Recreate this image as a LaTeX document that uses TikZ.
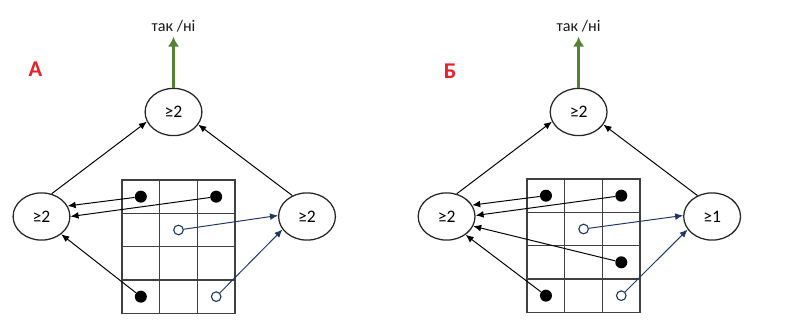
\documentclass[tikz,border=0pt]{standalone}
\usepackage{fontspec}
\setmainfont{Carlito}
\usepackage{tikz}
\usetikzlibrary{shapes.geometric,arrows.meta}
\definecolor{zelenyj}{RGB}{84,130,53}
\definecolor{synij}{RGB}{32,56,100}
\definecolor{chervonyj}{RGB}{232,32,40}
\tikzset{
  neuron/.style={ellipse, draw=black!85, line width=0.9pt,
                 minimum width=1.42cm, minimum height=1.18cm, inner sep=0pt,
                 font=\fontsize{12.5}{14}\selectfont},
  tochka/.style={circle, fill=black, minimum size=3mm, inner sep=0pt},
  kilce/.style={circle, draw=synij, fill=white, line width=0.8pt,
                minimum size=2.4mm, inner sep=0pt},
  strilka/.style={-{Latex[length=2mm,width=1.7mm]}, line width=0.7pt},
  synja/.style={strilka, draw=synij},
  vykhid/.style={-{Latex[length=2.4mm,width=2.8mm]}, draw=zelenyj, line width=2pt},
  sitka/.style={draw=black!75, line width=0.9pt},
  mitka/.style={font=\bfseries\fontsize{16}{18}\selectfont, text=chervonyj},
  vidpovid/.style={font=\fontsize{11.5}{13}\selectfont, text=black!90}
}

\begin{document}
\begin{tikzpicture}[x=0.025cm, y=-0.025cm]
  \useasboundingbox (0,0) rectangle (800,320);
  \def\kx{37.67}   % ширина клітинки
  \def\ky{33.33}   % висота клітинки

  % --- A ---
  \node[mitka] (aM) at (35.5,69.5) {А};
  \node[vidpovid] (aV) at (173.5,26) {так /ні};
  \node[neuron] (aT) at (173.5,112)  {≥2};
  \node[neuron] (aL) at (41.5,216.5) {≥2};
  \node[neuron] (aR) at (307,216.5)  {≥2};
  \foreach \c in {0,1,2} \foreach \r in {0,...,3}
    \draw[sitka] ({122+\kx*\c},{180+\ky*\r}) rectangle ++(\kx,\ky);
  \node[tochka] (a00) at ({122+\kx*0.5},{180+\ky*0.5}) {};
  \node[tochka] (a20) at ({122+\kx*2.5},{180+\ky*0.5}) {};
  \node[tochka] (a03) at ({122+\kx*0.5},{180+\ky*3.5}) {};
  \node[kilce]  (a11) at ({122+\kx*1.5},{180+\ky*1.5}) {};
  \node[kilce]  (a23) at ({122+\kx*2.5},{180+\ky*3.5}) {};
  \draw[strilka] (a00) -- (aL.22);
  \draw[strilka] (a20) -- (aL.0);
  \draw[strilka] (a03) -- (aL.-42);
  \draw[synja] (a11) -- (aR.178);
  \draw[synja] (a23) -- (aR.208);
  \draw[strilka] (aL.66) -- (aT.200);
  \draw[strilka] (aR.125) -- (aT.333);
  \draw[vykhid] (aT.north) -- (aV.south);

  % --- Б ---
  \begin{scope}[xshift=10.125cm]
  \node[mitka] (bM) at (45,71.5) {Б};
  \node[vidpovid] (bV) at (173.5,26) {так /ні};
  \node[neuron] (bT) at (173.5,112)  {≥2};
  \node[neuron] (bL) at (41.5,216.5) {≥2};
  \node[neuron] (bR) at (307,216.5)  {≥1};
  \foreach \c in {0,1,2} \foreach \r in {0,...,3}
    \draw[sitka] ({122+\kx*\c},{179+\ky*\r}) rectangle ++(\kx,\ky);
  \node[tochka] (b00) at ({122+\kx*0.5},{179+\ky*0.5}) {};
  \node[tochka] (b20) at ({122+\kx*2.5},{179+\ky*0.5}) {};
  \node[tochka] (b22) at ({122+\kx*2.5},{179+\ky*2.5}) {};
  \node[tochka] (b03) at ({122+\kx*0.5},{179+\ky*3.5}) {};
  \node[kilce]  (b11) at ({122+\kx*1.5},{179+\ky*1.5}) {};
  \node[kilce]  (b23) at ({122+\kx*2.5},{179+\ky*3.5}) {};
  \draw[strilka] (b00) -- (bL.24);
  \draw[strilka] (b20) -- (bL.2);
  \draw[strilka] (b22) -- (bL.-20);
  \draw[strilka] (b03) -- (bL.-44);
  \draw[synja] (b11) -- (bR.178);
  \draw[synja] (b23) -- (bR.208);
  \draw[strilka] (bL.66) -- (bT.200);
  \draw[strilka] (bR.125) -- (bT.333);
  \draw[vykhid] (bT.north) -- (bV.south);
  \end{scope}
\end{tikzpicture}
\end{document}
